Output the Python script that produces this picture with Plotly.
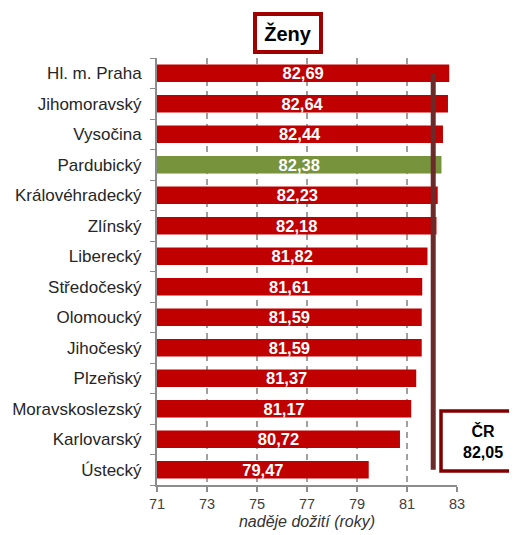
import plotly.graph_objects as go

regions = ["Hl. m. Praha", "Jihomoravský", "Vysočina", "Pardubický", "Královéhradecký",
           "Zlínský", "Liberecký", "Středočeský", "Olomoucký", "Jihočeský", "Plzeňský",
           "Moravskoslezský", "Karlovarský", "Ústecký"]
values = [82.69, 82.64, 82.44, 82.38, 82.23, 82.18, 81.82, 81.61, 81.59, 81.59, 81.37,
          81.17, 80.72, 79.47]
highlight = "Pardubický"
cr_value = 82.05
x_min = 71
x_ticks = [71, 73, 75, 77, 79, 81, 83]

RED = "#C00000"
GREEN = "#77933C"
colors = [GREEN if r == highlight else RED for r in regions]
labels = [f"{v:.2f}".replace(".", ",") for v in values]

FONT = "Liberation Sans, Arial, sans-serif"

fig = go.Figure()
fig.add_trace(go.Bar(
    y=regions, x=[v - x_min for v in values], base=x_min, orientation="h",
    marker=dict(color=colors, line=dict(width=0)),
    width=0.58,
    text=labels, textposition="inside", insidetextanchor="middle",
    constraintext="none",
    textfont=dict(family=FONT, size=16.5, color="white", weight="bold"),
    textangle=0, cliponaxis=False, hoverinfo="skip",
))

fig.add_trace(go.Scatter(
    x=[cr_value, cr_value], y=[regions[0], regions[-1]], mode="lines",
    line=dict(color="#6B2B2B", width=5), hoverinfo="skip",
))

# page body has an 8px margin -> shift figure to compensate
fig.update_layout(
    width=509, height=527,
    margin=dict(l=149, r=60, t=50, b=50, autoexpand=False),
    plot_bgcolor="white", paper_bgcolor="white",
    showlegend=False,
    font=dict(family=FONT, size=14, color="#333333"),
    xaxis=dict(
        range=[71, 83.001], tickvals=x_ticks, ticktext=[str(t) for t in x_ticks],
        showgrid=True, gridcolor="#A0A0A0", gridwidth=2, griddash="6px,5px",
        showline=True, linecolor="#8C8C8C", linewidth=2,
        ticks="outside", ticklen=5, tickwidth=2, tickcolor="#8C8C8C",
        tickfont=dict(family=FONT, size=14.5, color="#404040"),
        title=dict(text="<i>naděje dožití (roky)</i>", font=dict(family=FONT, size=16, color="#333333"), standoff=4),
        zeroline=False, automargin=False,
    ),
    yaxis=dict(
        categoryorder="array", categoryarray=regions[::-1], range=[-0.5, 13.5],
        showline=True, linecolor="#8C8C8C", linewidth=2,
        ticks="outside", tickson="boundaries", ticklen=5, tickwidth=1, tickcolor="#8C8C8C",
        tickfont=dict(family=FONT, size=17, color="#262626"),
        ticklabelstandoff=10,
        showgrid=False, automargin=False,
    ),
    shapes=[
        dict(type="rect", xref="paper", yref="paper", x0=0.9467, x1=1.35, y0=0.0328, y1=0.1733,
             line=dict(color="#800000", width=3.5), fillcolor="white", layer="above"),
    ],
    annotations=[
        dict(text="<b>Ženy</b>", xref="paper", yref="paper", x=0.437, y=1.059,
             showarrow=False, font=dict(family=FONT, size=20, color="black"),
             bordercolor="#A00000", borderwidth=4, borderpad=3, bgcolor="white",
             width=56, height=28,
             xanchor="center", yanchor="middle"),
        dict(text="<b>ČR<br>82,05</b>", xref="paper", yref="paper", x=1.087, y=0.103,
             showarrow=False, font=dict(family=FONT, size=16, color="black"),
             align="center", xanchor="center", yanchor="middle"),
    ],
)

fig.write_html("out.html")
